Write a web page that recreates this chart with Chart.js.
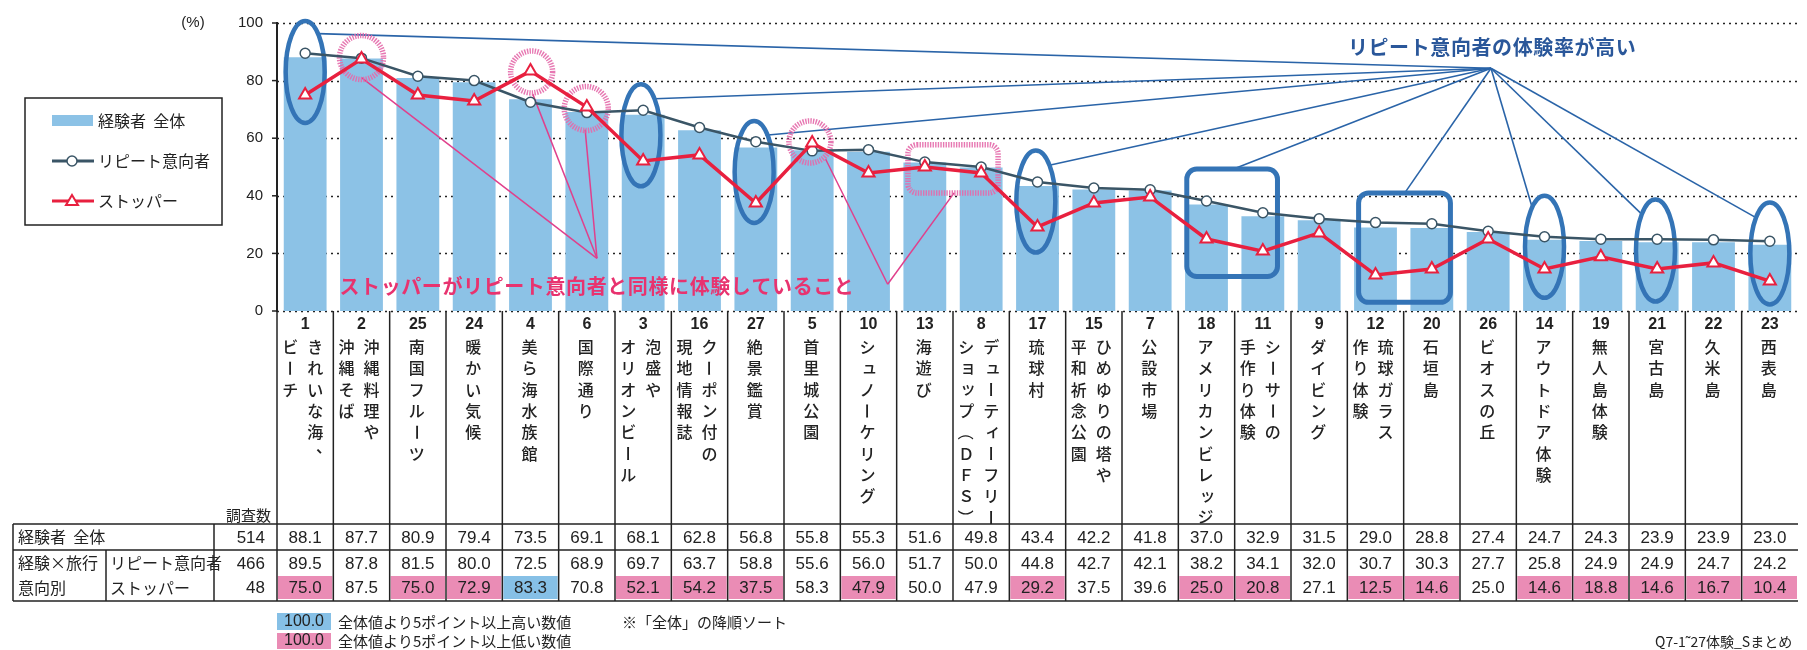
<!DOCTYPE html>
<html><head><meta charset="utf-8">
<script src="https://cdn.jsdelivr.net/npm/chart.js@4.4.1/dist/chart.umd.min.js"></script>
<style>html,body{margin:0;padding:0;background:#fff;}canvas{display:block}</style>
</head><body>
<canvas id="c" width="1807" height="650"></canvas>
<script>
// ---------------- data ----------------
const itemNumbers = ['1','2','25','24','4','6','3','16','27','5','10','13','8','17','15','7','18','11','9','12','20','26','14','19','21','22','23'];
const categoryLines = [
  ['きれいな海、','ビーチ'],['沖縄料理や','沖縄そば'],['南国フルーツ'],['暖かい気候'],['美ら海水族館'],
  ['国際通り'],['泡盛や','オリオンビール'],['クーポン付の','現地情報誌'],['絶景鑑賞'],['首里城公園'],
  ['シュノーケリング'],['海遊び'],['デューティーフリー','ショップ（ＤＦＳ）'],['琉球村'],['ひめゆりの塔や','平和祈念公園'],
  ['公設市場'],['アメリカンビレッジ'],['シーサーの','手作り体験'],['ダイビング'],['琉球ガラス','作り体験'],
  ['石垣島'],['ビオスの丘'],['アウトドア体験'],['無人島体験'],['宮古島'],['久米島'],['西表島']
];
const overall   = [88.1,87.7,80.9,79.4,73.5,69.1,68.1,62.8,56.8,55.8,55.3,51.6,49.8,43.4,42.2,41.8,37.0,32.9,31.5,29.0,28.8,27.4,24.7,24.3,23.9,23.9,23.0];
const repeaters = [89.5,87.8,81.5,80.0,72.5,68.9,69.7,63.7,58.8,55.6,56.0,51.7,50.0,44.8,42.7,42.1,38.2,34.1,32.0,30.7,30.3,27.7,25.8,24.9,24.9,24.7,24.2];
const stoppers  = [75.0,87.5,75.0,72.9,83.3,70.8,52.1,54.2,37.5,58.3,47.9,50.0,47.9,29.2,37.5,39.6,25.0,20.8,27.1,12.5,14.6,25.0,14.6,18.8,14.6,16.7,10.4];
const seriesNames = ['経験者  全体','リピート意向者','ストッパー'];
const sampleSizes = [514,466,48];
const yTickValues = [0,20,40,60,80,100];

// ---------------- styles ----------------
const BAR = '#8cc2e6', REP = '#3a5566', STP = '#e8203f';
const CJK = "'Noto Sans CJK JP','Noto Sans CJK SC',sans-serif";
const LAT = "'Liberation Sans','DejaVu Sans',sans-serif";

// annotation layout (category index, value)
const blueEllipses = [[0,83],[5.96,61],[7.97,48.3],[12.97,38],[22,22.3],[23.97,21],[26,20]];
const blueBoxes = [[15.65,17.26,49.3,12],[18.7,20.33,41,3]];
const blueFan = [21.05,84.3];
const blueLeaders = [[0.224,96.3],[6.21,73.7],[8.17,61],[13.23,50.7],[16.48,49.3],[19.52,41],[21.78,36],[23.72,33.7],[25.73,32.7]];
const blueText = {t:'リピート意向者の体験率が高い', i:21.07, v:91.6};
const pinkCircles = [[1.0,88,22],[4.02,83,21],[4.99,70.3,22],[8.96,58.7,21]];
const pinkBox = [10.7,12.3,57.7,41];
const pinkA = [5.18,18.3], pinkLeadersA = [[1.0,81],[4.04,75.3],[4.97,63]];
const pinkB = [10.34,9.3], pinkLeadersB = [[9.24,52.7],[11.52,41]];
const pinkText = {t:'ストッパーがリピート意向者と同様に体験していること', i:5.18, v:8.7};

function vText(ctx, str, x, y0, pitch, fs){
  Array.from(str).forEach((ch,k)=>{
    ctx.save();
    ctx.translate(x, y0 + k*pitch);
    if ('ー－―（）()「」〜'.includes(ch)) ctx.rotate(Math.PI/2);
    else if ('、。'.includes(ch)) ctx.translate(fs*0.55,-fs*0.5);
    else if ('ッュョャァィゥェォっゅょゃ'.includes(ch)) ctx.translate(fs*0.12,-fs*0.1);
    ctx.fillText(ch,0,0);
    ctx.restore();
  });
}

const dottedGrid = {
  id:'dottedGrid',
  beforeDatasetsDraw(chart){
    const ctx = chart.ctx, ys = chart.scales.y, ca = chart.chartArea;
    ctx.save();
    ctx.strokeStyle='#222'; ctx.lineWidth=1.6; ctx.setLineDash([2,4]);
    yTickValues.forEach(v=>{
      const y = Math.round(ys.getPixelForValue(v))+0.5;
      ctx.beginPath(); ctx.moveTo(ca.left,y); ctx.lineTo(ca.right,y); ctx.stroke();
    });
    ctx.restore();
  }
};

const annotations = {
  id:'annotations',
  beforeDatasetDraw(chart, args){
    if (args.index !== 1) return;
    const ctx = chart.ctx, xs = chart.scales.x, ys = chart.scales.y;
    const X = i => xs.getPixelForValue(i), Y = v => ys.getPixelForValue(v);
    ctx.save();
    ctx.strokeStyle = '#2a64a8'; ctx.lineWidth = 1.6;
    blueLeaders.forEach(([i,v])=>{ctx.beginPath();ctx.moveTo(X(i),Y(v));ctx.lineTo(X(blueFan[0]),Y(blueFan[1]));ctx.stroke();});
    ctx.strokeStyle = '#3474b6'; ctx.lineWidth = 4.5;
    blueEllipses.forEach(([i,v])=>{ctx.beginPath();ctx.ellipse(X(i),Y(v),19.5,51,0,0,Math.PI*2);ctx.stroke();});
    ctx.lineWidth = 5;
    blueBoxes.forEach(([i0,i1,v0,v1])=>{ctx.beginPath();ctx.roundRect(X(i0),Y(v0),X(i1)-X(i0),Y(v1)-Y(v0),10);ctx.stroke();});
    ctx.strokeStyle = '#e0408c'; ctx.lineWidth = 1.5;
    pinkLeadersA.forEach(([i,v])=>{ctx.beginPath();ctx.moveTo(X(i),Y(v));ctx.lineTo(X(pinkA[0]),Y(pinkA[1]));ctx.stroke();});
    pinkLeadersB.forEach(([i,v])=>{ctx.beginPath();ctx.moveTo(X(i),Y(v));ctx.lineTo(X(pinkB[0]),Y(pinkB[1]));ctx.stroke();});
    ctx.strokeStyle = 'rgba(228,105,170,0.9)'; ctx.lineWidth = 5.5; ctx.setLineDash([1.4,1.2]);
    pinkCircles.forEach(([i,v,r])=>{ctx.beginPath();ctx.arc(X(i),Y(v),r,0,Math.PI*2);ctx.stroke();});
    ctx.beginPath();ctx.roundRect(X(pinkBox[0]),Y(pinkBox[2]),X(pinkBox[1])-X(pinkBox[0]),Y(pinkBox[3])-Y(pinkBox[2]),9);ctx.stroke();
    ctx.setLineDash([]);
    ctx.textAlign='center'; ctx.textBaseline='middle';
    ctx.font = `bold 20px ${CJK}`; ctx.letterSpacing = '0.6px';
    ctx.fillStyle = '#2a579a'; ctx.fillText(blueText.t, X(blueText.i), Y(blueText.v));
    ctx.fillStyle = '#e8336f'; ctx.fillText(pinkText.t, X(pinkText.i), Y(pinkText.v));
    ctx.letterSpacing = '0px';
    ctx.restore();
  }
};

const extras = {
  id:'extras',
  afterDraw(chart){
    const ctx = chart.ctx, xs = chart.scales.x, ys = chart.scales.y, ca = chart.chartArea;
    const n = overall.length, w = (ca.right-ca.left)/n;
    ctx.save();
    ctx.strokeStyle='#222'; ctx.lineWidth=1.5;
    yTickValues.forEach(v=>{const y=ys.getPixelForValue(v);ctx.beginPath();ctx.moveTo(ca.left-5,y);ctx.lineTo(ca.left,y);ctx.stroke();});
    ctx.fillStyle='#222'; ctx.font=`15px ${LAT}`; ctx.textAlign='center'; ctx.textBaseline='middle';
    ctx.fillText('(%)',193,23);
    // legend box
    ctx.lineWidth=1.5; ctx.strokeStyle='#222'; ctx.strokeRect(25,98,197,127);
    ctx.fillStyle=BAR; ctx.fillRect(52,115,41,11);
    ctx.strokeStyle=REP; ctx.lineWidth=3; ctx.beginPath(); ctx.moveTo(52,161); ctx.lineTo(94,161); ctx.stroke();
    ctx.fillStyle='#fff'; ctx.lineWidth=1.5; ctx.beginPath(); ctx.arc(72,161,5,0,Math.PI*2); ctx.fill(); ctx.stroke();
    ctx.strokeStyle=STP; ctx.lineWidth=3; ctx.beginPath(); ctx.moveTo(52,201); ctx.lineTo(94,201); ctx.stroke();
    ctx.lineWidth=2; ctx.beginPath(); ctx.moveTo(72,195); ctx.lineTo(78,205); ctx.lineTo(66,205); ctx.closePath(); ctx.fill(); ctx.stroke();
    ctx.fillStyle='#222'; ctx.font=`16px ${CJK}`; ctx.textAlign='left';
    ctx.fillText(seriesNames[0],98,121); ctx.fillText(seriesNames[1],98,161); ctx.fillText(seriesNames[2],98,201);
    // category labels
    const yTop = ca.bottom, tTop = 524, r2 = 550, tBot = 601;
    for(let i=0;i<n;i++){
      const c = xs.getPixelForValue(i);
      ctx.fillStyle='#222'; ctx.textAlign='center';
      ctx.font=`bold 16px ${LAT}`; ctx.fillText(itemNumbers[i], c, 325);
      ctx.font=`500 16px ${CJK}`;
      const L = categoryLines[i];
      if (L.length===1) vText(ctx,L[0],c-1,347,21.3,16);
      else { vText(ctx,L[0],c+10,347,21.3,16); vText(ctx,L[1],c-15,347,21.3,16); }
    }
    // table fills
    for(let i=0;i<n;i++){
      const d = stoppers[i]-overall[i];
      if (Math.abs(d)>=5){
        ctx.fillStyle = d>0 ? '#86c0e6' : '#ea8cb5';
        ctx.fillRect(ca.left+i*w+1, 576, w-2, 23);
      }
    }
    ctx.strokeStyle='#222'; ctx.lineWidth=1.5;
    const hl=(y,x0)=>{ctx.beginPath();ctx.moveTo(x0,y);ctx.lineTo(ca.right,y);ctx.stroke();};
    hl(tTop,13); hl(r2,13); hl(tBot,13);
    const vl=(x,y0,y1)=>{ctx.beginPath();ctx.moveTo(x,y0);ctx.lineTo(x,y1);ctx.stroke();};
    vl(13,tTop,tBot); vl(106,r2,tBot); vl(214,tTop,tBot); vl(ca.left,yTop,tBot);
    for(let i=1;i<n;i++) vl(ca.left+i*w,yTop,tBot);
    ctx.fillStyle='#222'; ctx.textAlign='left'; ctx.font=`16px ${CJK}`;
    ctx.fillText('経験者  全体',18,537); ctx.fillText('経験×旅行',18,563); ctx.fillText('意向別',18,588);
    ctx.fillText('リピート意向者',110,563); ctx.fillText('ストッパー',110,588);
    ctx.font=`15px ${CJK}`; ctx.textAlign='right'; ctx.fillText('調査数',271,515);
    ctx.font=`17px ${LAT}`;
    ctx.fillText(String(sampleSizes[0]),265,538); ctx.fillText(String(sampleSizes[1]),265,564); ctx.fillText(String(sampleSizes[2]),265,588);
    ctx.textAlign='center';
    for(let i=0;i<n;i++){
      const c = xs.getPixelForValue(i);
      ctx.fillText(overall[i].toFixed(1),c,538);
      ctx.fillText(repeaters[i].toFixed(1),c,564);
      ctx.fillText(stoppers[i].toFixed(1),c,588);
    }
    ctx.fillStyle='#86c0e6'; ctx.fillRect(277,613,54,17);
    ctx.fillStyle='#ea8cb5'; ctx.fillRect(277,633,54,16);
    ctx.fillStyle='#222'; ctx.font=`16px ${LAT}`; ctx.textAlign='center';
    ctx.fillText('100.0',304,622); ctx.fillText('100.0',304,641);
    ctx.textAlign='left'; ctx.font=`15px ${CJK}`;
    ctx.fillText('全体値より5ポイント以上高い数値',338,622);
    ctx.fillText('全体値より5ポイント以上低い数値',338,641);
    ctx.fillText('※「全体」の降順ソート',622,622);
    ctx.font=`14px ${CJK}`; ctx.fillText('Q7-1˜27体験_Sまとめ',1655,642);
    ctx.restore();
  }
};

new Chart(document.getElementById('c'), {
  type:'bar',
  data:{
    labels:itemNumbers,
    datasets:[
      {type:'bar', label:seriesNames[0], data:overall, backgroundColor:BAR, barPercentage:0.76, categoryPercentage:1, order:3},
      {type:'line', label:seriesNames[1], data:repeaters, borderColor:REP, borderWidth:2.5, tension:0,
       pointStyle:'circle', pointRadius:5, pointBackgroundColor:'#fff', pointBorderColor:REP, pointBorderWidth:1.5, order:2},
      {type:'line', label:seriesNames[2], data:stoppers, borderColor:STP, borderWidth:3.5, tension:0,
       pointStyle:'triangle', pointRadius:7, pointBackgroundColor:'#fff', pointBorderColor:STP, pointBorderWidth:2, order:1}
    ]
  },
  options:{
    responsive:false, animation:false, devicePixelRatio:1,
    layout:{padding:{top:11,left:0,right:0,bottom:339}},
    plugins:{legend:{display:false}, tooltip:{enabled:false}},
    scales:{
      x:{display:false, offset:true},
      y:{min:0,max:100, afterFit(s){s.width=277;},
         afterBuildTicks(s){s.ticks=yTickValues.map(v=>({value:v}));},
         ticks:{padding:14, color:'#222', font:{family:"'Liberation Sans',sans-serif", size:15}},
         grid:{display:false, drawTicks:false},
         border:{display:true, color:'#222', width:2}}
    }
  },
  plugins:[dottedGrid, annotations, extras]
});
</script>
</body></html>
